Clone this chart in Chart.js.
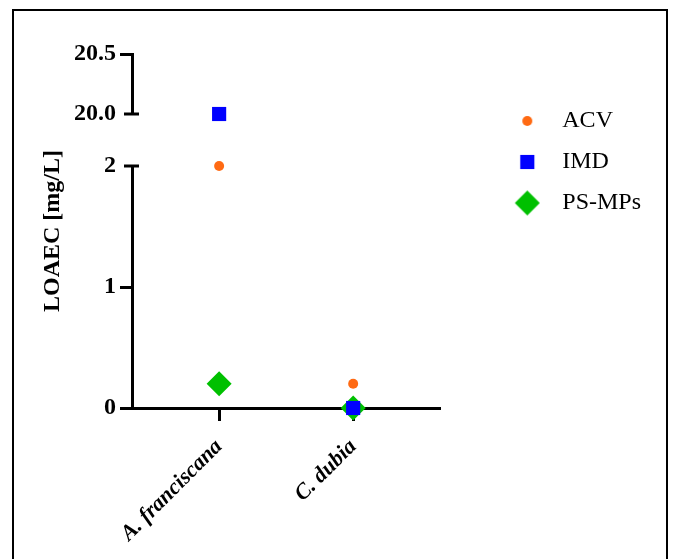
<!DOCTYPE html>
<html><head><meta charset="utf-8">
<script src="https://cdn.jsdelivr.net/npm/chart.js@4/dist/chart.umd.min.js"></script>
<style>
html,body{margin:0;padding:0;background:#fff;overflow:hidden;width:674px;height:559px;}
#frame{position:absolute;left:12px;top:9px;width:656px;height:620px;box-sizing:border-box;border:2.5px solid #000;}
#c{position:absolute;left:0;top:0;}
</style></head><body>
<div id="frame"></div>
<canvas id="c" width="674" height="559"></canvas>
<script>
// ---- data ----
const categories = ['A. franciscana', 'C. dubia'];
const seriesNames = ['ACV', 'IMD', 'PS-MPs'];
const acv = [2, 0.2];
const imd = [20, 0];
const psmps = [0.2, 0];
const lowerTicks = [0, 1, 2];
const lowerTickLabels = ['0', '1', '2'];
const upperTicks = [20, 20.5];
const upperTickLabels = ['20.0', '20.5'];
const yTitle = 'LOAEC [mg/L]';

// ---- styles ----
const SERIF = "'Liberation Serif', 'Times New Roman', serif";
const colors = ['#FF6A13', '#0000FF', '#00C000'];
const pointStyles = ['circle', 'rect', 'rectRot'];
const pointRadii = [5, 10, 12.5];
const seriesValues = [acv, imd, psmps];
const lowMax = lowerTicks[lowerTicks.length - 1];
const highMin = upperTicks[0];

function makeIcon(style, r, color) {
  const size = Math.ceil(r * 2) + 2;
  const cv = document.createElement('canvas');
  cv.width = size; cv.height = size;
  const c = cv.getContext('2d');
  c.fillStyle = color;
  const m = size / 2;
  c.beginPath();
  if (style === 'circle') c.arc(m, m, r, 0, Math.PI * 2);
  else if (style === 'rect') { const h = r * Math.SQRT1_2; c.rect(m - h, m - h, 2 * h, 2 * h); }
  else { c.moveTo(m - r, m); c.lineTo(m, m - r); c.lineTo(m + r, m); c.lineTo(m, m + r); c.closePath(); }
  c.fill();
  return cv;
}
const legendIcons = seriesNames.map((n, i) => makeIcon(pointStyles[i], pointRadii[i], colors[i]));

function pointSet(i, name, axisId, legendHidden, data) {
  return {
    label: name, data: data, yAxisID: axisId, xAxisID: 'x', legendHidden: legendHidden, seriesIndex: i,
    pointStyle: pointStyles[i], pointRadius: pointRadii[i], pointHoverRadius: pointRadii[i],
    backgroundColor: colors[i], borderColor: colors[i], pointBorderWidth: 0, borderWidth: 0,
    showLine: false, clip: false
  };
}
const datasets = [];
seriesNames.forEach((name, i) => {
  const vals = seriesValues[i];
  const low = vals.map((v, k) => ({x: k, y: v})).filter(p => p.y <= lowMax);
  const high = vals.map((v, k) => ({x: k, y: v})).filter(p => p.y >= highMin);
  datasets.push(pointSet(i, name, 'yLow', false, low));
  if (high.length) datasets.push(pointSet(i, name, 'yTop', true, high));
});

const tickFont = {family: SERIF, size: 24, weight: 'bold'};
const hideAt = v => ctx => (ctx.tick && ctx.tick.value === v) ? 'rgba(0,0,0,0)' : '#000';

const breakCaps = {
  id: 'breakCaps',
  afterDraw(chart) {
    const ctx = chart.ctx;
    [['yTop', highMin], ['yLow', lowMax]].forEach(([id, v]) => {
      const s = chart.scales[id];
      const y = s.getPixelForValue(v);
      const x = s.right;
      ctx.save();
      ctx.strokeStyle = '#000'; ctx.lineWidth = 3;
      ctx.beginPath(); ctx.moveTo(x - 8, y); ctx.lineTo(x + 7, y); ctx.stroke();
      ctx.restore();
    });
  }
};

new Chart(document.getElementById('c'), {
  type: 'scatter',
  data: {datasets},
  plugins: [breakCaps],
  options: {
    responsive: false, animation: false, events: [],
    layout: {padding: {top: 54, right: 23, bottom: 0, left: 0}},
    plugins: {
      tooltip: {enabled: false},
      legend: {
        display: true, position: 'right', align: 'start', maxWidth: 220,
        title: {display: true, text: '', font: {size: 10}, padding: {top: 26, bottom: 0}},
        labels: {
          usePointStyle: true, pointStyleWidth: 46, padding: 17, color: '#000',
          font: {family: SERIF, size: 24},
          filter: (item, data) => !data.datasets[item.datasetIndex].legendHidden,
          generateLabels: chart => Chart.defaults.plugins.legend.labels.generateLabels(chart).map(it => {
            const ds = chart.data.datasets[it.datasetIndex];
            it.pointStyle = legendIcons[ds.seriesIndex];
            it.fontColor = '#000';
            return it;
          })
        }
      }
    },
    scales: {
      x: {
        type: 'linear', position: 'bottom', min: -0.65, max: 1.65,
        afterBuildTicks: s => { s.ticks = categories.map((c, i) => ({value: i})); },
        afterFit: s => { s.height = 151; },
        ticks: {callback: v => categories[v], font: {family: SERIF, size: 22, weight: 'bold', style: 'italic'},
                color: '#000', minRotation: 45, maxRotation: 45, padding: 13, autoSkip: false},
        grid: {display: true, drawOnChartArea: false, drawTicks: true, tickLength: 13, tickWidth: 3, tickColor: '#000'},
        border: {display: true, color: '#000', width: 3}
      },
      yTitle: {
        type: 'linear', position: 'left', weight: 10,
        afterFit: s => { s.width = 70; },
        ticks: {display: false}, grid: {display: false}, border: {display: false},
        title: {display: true, text: yTitle, color: '#000', font: {family: SERIF, size: 24, weight: 'bold'}, padding: {top: 38, bottom: 0}}
      },
      yTop: {
        type: 'linear', position: 'left', stack: 'yb', stackWeight: 60, weight: 3,
        min: upperTicks[0], max: upperTicks[upperTicks.length - 1],
        afterBuildTicks: s => { s.ticks = upperTicks.map(v => ({value: v})); },
        afterFit: s => { s.width = 62; },
        ticks: {callback: (v, i) => upperTickLabels[i], font: tickFont, color: '#000', padding: 4, autoSkip: false},
        grid: {display: true, drawOnChartArea: false, drawTicks: true, tickLength: 12, tickWidth: 3, tickColor: hideAt(highMin)},
        border: {display: true, color: '#000', width: 3}
      },
      yGap: {
        type: 'linear', position: 'left', stack: 'yb', stackWeight: 52, weight: 2,
        ticks: {display: false}, grid: {display: false}, border: {display: false}
      },
      yLow: {
        type: 'linear', position: 'left', stack: 'yb', stackWeight: 242, weight: 1,
        min: lowerTicks[0], max: lowMax,
        afterBuildTicks: s => { s.ticks = lowerTicks.map(v => ({value: v})); },
        afterFit: s => { s.width = 62; },
        ticks: {callback: (v, i) => lowerTickLabels[i], font: tickFont, color: '#000', padding: 4, autoSkip: false},
        grid: {display: true, drawOnChartArea: false, drawTicks: true, tickLength: 12, tickWidth: 3, tickColor: hideAt(lowMax)},
        border: {display: true, color: '#000', width: 3}
      },
      ySpacer: {
        type: 'linear', position: 'right', weight: 0,
        afterFit: s => { s.width = 47; },
        ticks: {display: false}, grid: {display: false}, border: {display: false}
      }
    }
  }
});
</script>
</body></html>
